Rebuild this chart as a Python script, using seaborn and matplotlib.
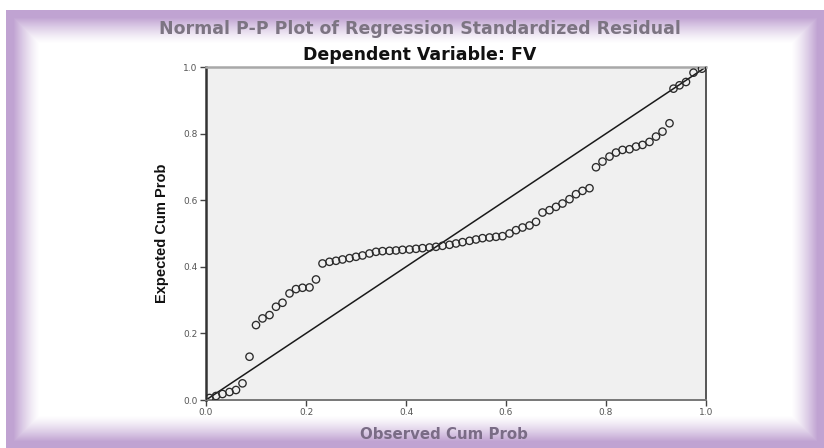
import numpy as np
import pandas as pd
import matplotlib
matplotlib.use("Agg")
import matplotlib.pyplot as plt
import seaborn as sns

# Observed vs expected cumulative probabilities of the standardized residuals
observed_cum_prob = [
    0.007, 0.020, 0.033, 0.047, 0.060, 0.073, 0.087, 0.100, 0.113, 0.127,
    0.140, 0.153, 0.167, 0.180, 0.193, 0.207, 0.220, 0.233, 0.247, 0.260,
    0.273, 0.287, 0.300, 0.313, 0.327, 0.340, 0.353, 0.367, 0.380, 0.393,
    0.407, 0.420, 0.433, 0.447, 0.460, 0.473, 0.487, 0.500, 0.513, 0.527,
    0.540, 0.553, 0.567, 0.580, 0.593, 0.607, 0.620, 0.633, 0.647, 0.660,
    0.673, 0.687, 0.700, 0.713, 0.727, 0.740, 0.753, 0.767, 0.780, 0.793,
    0.807, 0.820, 0.833, 0.847, 0.860, 0.873, 0.887, 0.900, 0.913, 0.927,
    0.935, 0.947, 0.960, 0.975, 0.992,
]
expected_cum_prob = [
    0.006, 0.012, 0.018, 0.024, 0.030, 0.050, 0.130, 0.225, 0.245, 0.255,
    0.280, 0.292, 0.320, 0.333, 0.337, 0.338, 0.362, 0.410, 0.415, 0.418,
    0.422, 0.426, 0.430, 0.434, 0.440, 0.445, 0.447, 0.448, 0.449, 0.451,
    0.452, 0.454, 0.456, 0.458, 0.460, 0.463, 0.466, 0.470, 0.474, 0.478,
    0.482, 0.486, 0.488, 0.490, 0.492, 0.500, 0.510, 0.518, 0.524, 0.535,
    0.563, 0.570, 0.580, 0.590, 0.603, 0.618, 0.628, 0.636, 0.699, 0.716,
    0.731, 0.743, 0.751, 0.753, 0.761, 0.766, 0.775, 0.791, 0.806, 0.831,
    0.935, 0.945, 0.955, 0.983, 0.995,
]
reference_line = [0.0, 1.0]
tick_values = [0.0, 0.2, 0.4, 0.6, 0.8, 1.0]
tick_labels = ["0.0", "0.2", "0.4", "0.6", "0.8", "1.0"]

df = pd.DataFrame({"observed": observed_cum_prob, "expected": expected_cum_prob})

sns.set_style("white")
plt.rcParams["font.family"] = ["DejaVu Sans"]

W, H = 824, 448
fig = plt.figure(figsize=(W / 100, H / 100), dpi=100)

# Soft lilac frame around the whole figure
purple = np.array([192, 163, 210]) / 255.0
yy, xx = np.mgrid[0:H, 0:W].astype(float)
left, top, right, bottom = 6.0, 10.0, W, H
d = np.minimum.reduce([xx - left, yy - top, right - xx, bottom - yy])
t = np.clip(1.0 - (d - 7.0) / 26.0, 0.0, 1.0) ** 1.3
inside = (xx >= left) & (yy >= top)
t = np.where(inside, t, 0.0)
bg = np.ones((H, W, 3)) * (1 - t[..., None]) + purple * t[..., None]
bg_ax = fig.add_axes([0, 0, 1, 1], zorder=0)
bg_ax.imshow(bg, aspect="auto", interpolation="bilinear")
bg_ax.axis("off")

ax = fig.add_axes([206 / W, 1 - 400 / H, 500 / W, 333 / H], zorder=1)
ax.set_facecolor("#f0f0f0")

sns.lineplot(x=reference_line, y=reference_line, ax=ax, color="#1a1a1a",
             linewidth=1.1, zorder=2)
sns.scatterplot(data=df, x="observed", y="expected", ax=ax, marker="o",
                s=28, facecolor="none", edgecolor="#2a2a2a", linewidth=0.95,
                zorder=3)

ax.set_xlim(0, 1)
ax.set_ylim(0, 1)
ax.set_xticks(tick_values)
ax.set_xticklabels(tick_labels)
ax.set_yticks(tick_values)
ax.set_yticklabels(tick_labels)
ax.tick_params(axis="both", direction="out", length=4, width=1.0,
               color="#444444", labelsize=6.5, labelcolor="#555555", pad=2)
ax.tick_params(left=True, bottom=True)

for side, col, lw in [("left", "#333333", 1.8), ("bottom", "#777777", 1.4),
                      ("top", "#a8a8a8", 1.8), ("right", "#555555", 1.4)]:
    ax.spines[side].set_visible(True)
    ax.spines[side].set_color(col)
    ax.spines[side].set_linewidth(lw)

ax.set_xlabel("")
ax.set_ylabel("Expected Cum Prob", fontsize=10.5, fontweight="bold",
              color="#111111", labelpad=10,
              family=["Liberation Sans", "DejaVu Sans"])

fig.text(420 / W, 1 - 29 / H, "Normal P-P Plot of Regression Standardized Residual",
         ha="center", va="center", fontsize=12.5, fontweight="bold",
         color="#7c7482")
fig.text(420 / W, 1 - 55 / H, "Dependent Variable: FV",
         ha="center", va="center", fontsize=12.5, fontweight="bold",
         color="#111111")
fig.text(444 / W, 1 - 434 / H, "Observed Cum Prob",
         ha="center", va="center", fontsize=10.8, fontweight="bold",
         color="#7a6c86")

fig.savefig("out.png", dpi=100)
